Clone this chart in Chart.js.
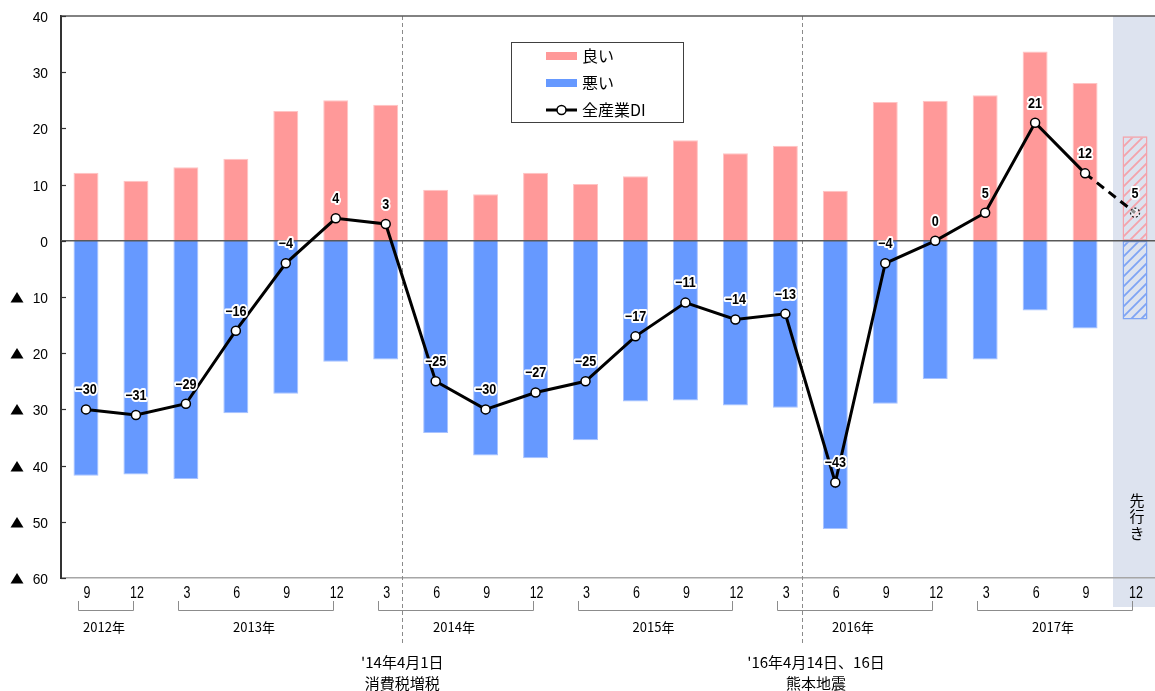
<!DOCTYPE html>
<html>
<head>
<meta charset="utf-8">
<script src="https://cdn.jsdelivr.net/npm/chart.js@4/dist/chart.umd.min.js"></script>
<style>
  html, body { margin: 0; padding: 0; background: #fff; overflow: hidden; }
  #wrap { width: 1166px; height: 691px; }
</style>
</head>
<body>
<div id="wrap"><canvas id="c" width="1166" height="691"></canvas></div>
<script>
// Quarter labels (month of survey), 2012-9 … 2017-12 (last one is the outlook)
const months = ['9','12','3','6','9','12','3','6','9','12','3','6','9','12','3','6','9','12','3','6','9','12'];
// Share answering "good" (%)
const good = [12.1, 10.7, 13.1, 14.6, 23.1, 25.0, 24.2, 9.1, 8.3, 12.1, 10.1, 11.5, 17.9, 15.6, 16.9, 8.9, 24.7, 24.9, 25.9, 33.7, 28.1, 18.6];
// Share answering "bad" (%), plotted downward
const bad = [-41.8, -41.6, -42.4, -30.7, -27.2, -21.5, -21.1, -34.2, -38.2, -38.7, -35.5, -28.6, -28.4, -29.3, -29.7, -51.3, -29.0, -24.6, -21.1, -12.4, -15.6, -14.0];
// All-industry DI
const di = [-30, -31, -29, -16, -4, 4, 3, -25, -30, -27, -25, -17, -11, -14, -13, -43, -4, 0, 5, 21, 12, 5];
// Year groups (index ranges into months)
const yearGroups = [
  { label: '2012年', from: 0, to: 1 },
  { label: '2013年', from: 2, to: 5 },
  { label: '2014年', from: 6, to: 9 },
  { label: '2015年', from: 10, to: 13 },
  { label: '2016年', from: 14, to: 17 },
  { label: '2017年', from: 18, to: 21 }
];
// Events marked with a dashed line (position as fractional category index)
const events = [
  { at: 6 + 1/3, lines: ["'14年4月1日", '消費税増税'] },
  { at: 14 + 1/3, lines: ["'16年4月14日、16日", '熊本地震'] }
];
const forecastIndex = 21;
const forecastText = '先行き';
const seriesNames = ['良い', '悪い', '全産業DI'];
const yTicks = [40, 30, 20, 10, 0, -10, -20, -30, -40, -50, -60];

const PINK = '#ff9999';
const BLUE = '#6699ff';
const NUM_FONT = '"Liberation Sans", Arial, sans-serif';
const JP_FONT = '"Noto Sans CJK JP", "Liberation Sans", sans-serif';

function hatch(color) {
  const t = document.createElement('canvas');
  t.width = 10; t.height = 10;
  const g = t.getContext('2d');
  g.strokeStyle = color;
  g.lineWidth = 1.8;
  g.beginPath();
  g.moveTo(-2, 12); g.lineTo(12, -2);
  g.moveTo(-7, 7); g.lineTo(7, -7);
  g.moveTo(3, 17); g.lineTo(17, 3);
  g.stroke();
  return g.createPattern(t, 'repeat');
}

const goodFill = good.map((v, i) => i === forecastIndex ? hatch('#f4a3ab') : PINK);
const badFill = bad.map((v, i) => i === forecastIndex ? hatch('#7ea4f4') : BLUE);

const decor = {
  id: 'decor',
  beforeDraw(chart) {
    const { ctx, chartArea: a, scales: { x } } = chart;
    const cx = x.getPixelForValue(forecastIndex);
    ctx.save();
    ctx.fillStyle = '#dde3ef';
    ctx.fillRect(cx - 22, a.top, chart.width - (cx - 22), 607 - a.top);
    ctx.restore();
  },
  beforeDatasetsDraw(chart) {
    const { ctx, chartArea: a, scales: { x } } = chart;
    ctx.save();
    ctx.strokeStyle = '#8a8a8a';
    ctx.lineWidth = 1;
    ctx.setLineDash([4, 3]);
    events.forEach(e => {
      const px = Math.round(x.getPixelForValue(e.at)) + 0.5;
      ctx.beginPath();
      ctx.moveTo(px, a.top);
      ctx.lineTo(px, 646);
      ctx.stroke();
    });
    ctx.restore();
  },
  beforeDatasetDraw(chart, args) {
    if (args.index !== 2) return;
    const { ctx, chartArea: a, scales: { y } } = chart;
    const y0 = y.getPixelForValue(0);
    ctx.save();
    ctx.strokeStyle = '#595959';
    ctx.lineWidth = 1.5;
    ctx.beginPath();
    ctx.moveTo(a.left, y0);
    ctx.lineTo(a.right, y0);
    ctx.stroke();
    ctx.restore();
  },
  afterDatasetsDraw(chart) {
    const { ctx } = chart;
    const meta = chart.getDatasetMeta(2);
    ctx.save();
    // outlook point: dashed ring
    const fp = meta.data[forecastIndex];
    ctx.beginPath();
    ctx.arc(fp.x, fp.y, 4.5, 0, Math.PI * 2);
    ctx.fillStyle = 'rgba(255,255,255,0.55)';
    ctx.fill();
    ctx.setLineDash([2, 2]);
    ctx.strokeStyle = '#222';
    ctx.lineWidth = 1.3;
    ctx.stroke();
    ctx.setLineDash([]);
    // value labels
    ctx.font = 'bold 14px ' + NUM_FONT;
    ctx.textAlign = 'center';
    ctx.textBaseline = 'middle';
    ctx.lineJoin = 'round';
    meta.data.forEach((p, i) => {
      const v = di[i];
      const s = v < 0 ? '\u2212' + (-v) : String(v);
      ctx.save();
      ctx.translate(p.x, p.y - 19);
      ctx.scale(0.9, 1);
      ctx.strokeStyle = '#fff';
      ctx.lineWidth = 4;
      ctx.strokeText(s, 0, 0);
      ctx.fillStyle = '#000';
      ctx.fillText(s, 0, 0);
      ctx.restore();
    });
    ctx.restore();
  },
  afterDraw(chart) {
    const { ctx, chartArea: a, scales: { x, y } } = chart;
    ctx.save();
    // frame top line
    ctx.strokeStyle = '#595959';
    ctx.lineWidth = 1.5;
    ctx.beginPath();
    ctx.moveTo(a.left, a.top);
    ctx.lineTo(a.right, a.top);
    ctx.stroke();
    // value axis: inward ticks, labels, ▲ for negatives
    ctx.strokeStyle = '#333';
    ctx.lineWidth = 1.2;
    ctx.fillStyle = '#000';
    ctx.font = '15px ' + NUM_FONT;
    ctx.textAlign = 'right';
    ctx.textBaseline = 'middle';
    yTicks.forEach(t => {
      const py = Math.round(y.getPixelForValue(t)) + 0.5;
      ctx.beginPath();
      ctx.moveTo(a.left, py);
      ctx.lineTo(a.left + 5, py);
      ctx.stroke();
      ctx.save();
      ctx.translate(48, py + 1);
      ctx.scale(0.92, 1);
      ctx.fillText(String(Math.abs(t)), 0, 0);
      ctx.restore();
      if (t < 0) {
        ctx.beginPath();
        ctx.moveTo(17, py - 5.5);
        ctx.lineTo(23.5, py + 5);
        ctx.lineTo(10.5, py + 5);
        ctx.closePath();
        ctx.fill();
      }
    });
    // category labels (condensed)
    ctx.textAlign = 'center';
    ctx.font = '16px ' + NUM_FONT;
    months.forEach((m, i) => {
      ctx.save();
      ctx.translate(x.getPixelForValue(i) + 1, 594);
      ctx.scale(0.78, 1);
      ctx.fillText(m, 0, 0);
      ctx.restore();
    });
    // year brackets
    ctx.strokeStyle = '#8c8c8c';
    ctx.lineWidth = 1;
    ctx.font = '13px ' + JP_FONT;
    yearGroups.forEach(g => {
      const x1 = Math.round(x.getPixelForValue(g.from)) - 7.5;
      const x2 = Math.round(x.getPixelForValue(g.to)) - 2.5;
      ctx.beginPath();
      ctx.moveTo(x1, 601);
      ctx.lineTo(x1, 610.5);
      ctx.lineTo(x2, 610.5);
      ctx.lineTo(x2, 601);
      ctx.stroke();
      ctx.fillText(g.label, (x1 + x2) / 2 - 2, 627);
    });
    // event captions
    ctx.font = '15px ' + JP_FONT;
    events.forEach((e, i) => {
      const px = x.getPixelForValue(e.at) + (i === 0 ? 0 : 14);
      ctx.fillText(e.lines[0], px, 662);
      ctx.fillText(e.lines[1], px, 683);
    });
    // outlook caption, vertical
    const fx = x.getPixelForValue(forecastIndex) + 2;
    ctx.font = '15px ' + JP_FONT;
    [...forecastText].forEach((ch, i) => ctx.fillText(ch, fx, 500 + i * 16.5));
    // legend
    ctx.fillStyle = '#fff';
    ctx.fillRect(511, 42, 172, 81);
    ctx.strokeStyle = '#404040';
    ctx.lineWidth = 1;
    ctx.strokeRect(511.5, 42.5, 172, 80);
    ctx.fillStyle = PINK;
    ctx.fillRect(546, 52, 31, 8);
    ctx.fillStyle = BLUE;
    ctx.fillRect(546, 79, 31, 8);
    ctx.strokeStyle = '#000';
    ctx.lineWidth = 3;
    ctx.beginPath();
    ctx.moveTo(546, 110);
    ctx.lineTo(577, 110);
    ctx.stroke();
    ctx.beginPath();
    ctx.arc(561.5, 110, 4.5, 0, Math.PI * 2);
    ctx.fillStyle = '#fff';
    ctx.fill();
    ctx.lineWidth = 1.5;
    ctx.stroke();
    ctx.fillStyle = '#000';
    ctx.font = '16px ' + JP_FONT;
    ctx.textAlign = 'left';
    ctx.fillText(seriesNames[0], 582, 56);
    ctx.fillText(seriesNames[1], 582, 83);
    ctx.fillText(seriesNames[2], 582, 110);
    ctx.restore();
  }
};

new Chart(document.getElementById('c'), {
  data: {
    labels: months,
    datasets: [
      {
        type: 'bar', label: seriesNames[0], data: good, order: 2,
        backgroundColor: goodFill,
        borderColor: good.map((v, i) => i === forecastIndex ? '#f4a3ab' : '#ffc4c4'),
        borderWidth: good.map((v, i) => i === forecastIndex ? 1.5 : 1),
        borderSkipped: c => c.dataIndex === forecastIndex ? false : 'start',
        grouped: false, barPercentage: 0.5, categoryPercentage: 1
      },
      {
        type: 'bar', label: seriesNames[1], data: bad, order: 3,
        backgroundColor: badFill,
        borderColor: bad.map((v, i) => i === forecastIndex ? '#7ea4f4' : '#a9c3ff'),
        borderWidth: bad.map((v, i) => i === forecastIndex ? 1.5 : 1),
        borderSkipped: c => c.dataIndex === forecastIndex ? false : 'start',
        grouped: false, barPercentage: 0.5, categoryPercentage: 1
      },
      {
        type: 'line', label: seriesNames[2], data: di, order: 0,
        borderColor: '#000', borderWidth: 3, tension: 0,
        segment: { borderDash: c => c.p1DataIndex === forecastIndex ? [9, 6] : undefined },
        pointRadius: di.map((v, i) => i === forecastIndex ? 0 : 4.5),
        pointBackgroundColor: '#fff', pointBorderColor: '#000', pointBorderWidth: 1.5
      }
    ]
  },
  options: {
    responsive: false,
    animation: false,
    devicePixelRatio: 1,
    layout: { padding: { top: 16, left: 0, right: 0, bottom: 0 } },
    plugins: { legend: { display: false }, tooltip: { enabled: false } },
    scales: {
      x: {
        offset: true,
        grid: { display: false },
        border: { display: true, color: '#a6a6a6', width: 1.5 },
        ticks: { display: false },
        afterFit: s => { s.height = 113; }
      },
      y: {
        min: -60, max: 40,
        grid: { display: false },
        border: { display: true, color: '#333', width: 2 },
        ticks: { display: false, stepSize: 10 },
        afterFit: s => { s.width = 61; }
      }
    }
  },
  plugins: [decor]
});
</script>
</body>
</html>
